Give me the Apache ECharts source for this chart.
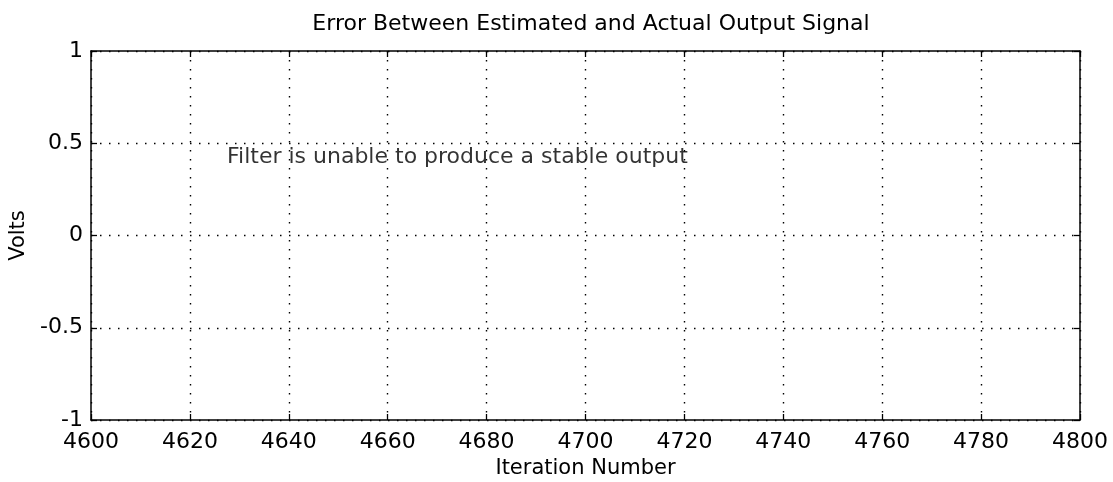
<!DOCTYPE html>
<html>
<head>
<meta charset="utf-8">
<script src="https://cdn.jsdelivr.net/npm/echarts@6/dist/echarts.min.js"></script>
<style>
  html, body { margin: 0; padding: 0; background: #fff; }
  #chart { width: 1113px; height: 482px; }
</style>
</head>
<body>
<div id="chart"></div>
<script>
// Axis ranges and tick spacing
const xRange = [4600, 4800];
const xStep = 20;
const yRange = [-1, 1];
const yStep = 0.5;

// Plot labels
const titleText = 'Error Between Estimated and Actual Output Signal';
const xLabel = 'Iteration Number';
const yLabel = 'Volts';

// Annotation placed in data coordinates
const noteX = [4627.5];
const noteY = [0.425];
const noteText = ['Filter is unable to produce a stable output'];

const FONT = '"DejaVu Sans", Verdana, sans-serif';
const INK = '#000';

const chart = echarts.init(document.getElementById('chart'), null, { renderer: 'canvas' });

const gridLine = { show: true, lineStyle: { color: INK, width: 1.4, type: [1.5, 7.5] } };
const tickIn = { show: true, inside: true, length: 6, lineStyle: { color: INK, width: 1.3 } };
const lineBox = { show: true, onZero: false, lineStyle: { color: INK, width: 1.5 } };

chart.setOption({
  backgroundColor: '#fff',
  animation: false,
  title: {
    text: titleText,
    left: 586, top: 8, textAlign: 'center',
    textStyle: { fontFamily: FONT, fontWeight: 'normal', fontSize: 22, color: INK }
  },
  grid: {
    left: 91, right: 33, top: 51, bottom: 62, show: false,
    containLabel: false, outerBoundsMode: 'none'
  },
  xAxis: [
    {
      type: 'value', min: xRange[0], max: xRange[1], interval: xStep,
      name: xLabel, nameLocation: 'middle', nameGap: 34,
      nameTextStyle: { fontFamily: FONT, fontSize: 21, color: INK },
      axisLine: lineBox, axisTick: tickIn, splitLine: gridLine,
      axisLabel: { fontFamily: FONT, fontSize: 22, color: INK, margin: 11, formatter: v => String(v) }
    },
    {
      type: 'value', position: 'top', min: xRange[0], max: xRange[1], interval: xStep,
      axisLine: lineBox, axisTick: tickIn, splitLine: { show: false },
      axisLabel: { show: false }
    }
  ],
  yAxis: [
    {
      type: 'value', min: yRange[0], max: yRange[1], interval: yStep,
      name: yLabel, nameLocation: 'middle', nameGap: 62,
      nameTextStyle: { fontFamily: FONT, fontSize: 21, color: INK },
      axisLine: lineBox, axisTick: tickIn, splitLine: gridLine,
      axisLabel: { fontFamily: FONT, fontSize: 22, color: INK, margin: 8, formatter: v => String(v) }
    },
    {
      type: 'value', position: 'right', min: yRange[0], max: yRange[1], interval: yStep,
      axisLine: lineBox, axisTick: tickIn, splitLine: { show: false },
      axisLabel: { show: false }
    }
  ],
  series: [
    {
      type: 'scatter',
      symbolSize: 0,
      data: noteX.map((x, i) => [x, noteY[i], noteText[i]]),
      label: {
        show: true, position: 'right', distance: 0,
        formatter: p => p.data[2],
        fontFamily: FONT, fontSize: 22, color: INK
      },
      silent: true
    }
  ]
});
</script>
</body>
</html>
